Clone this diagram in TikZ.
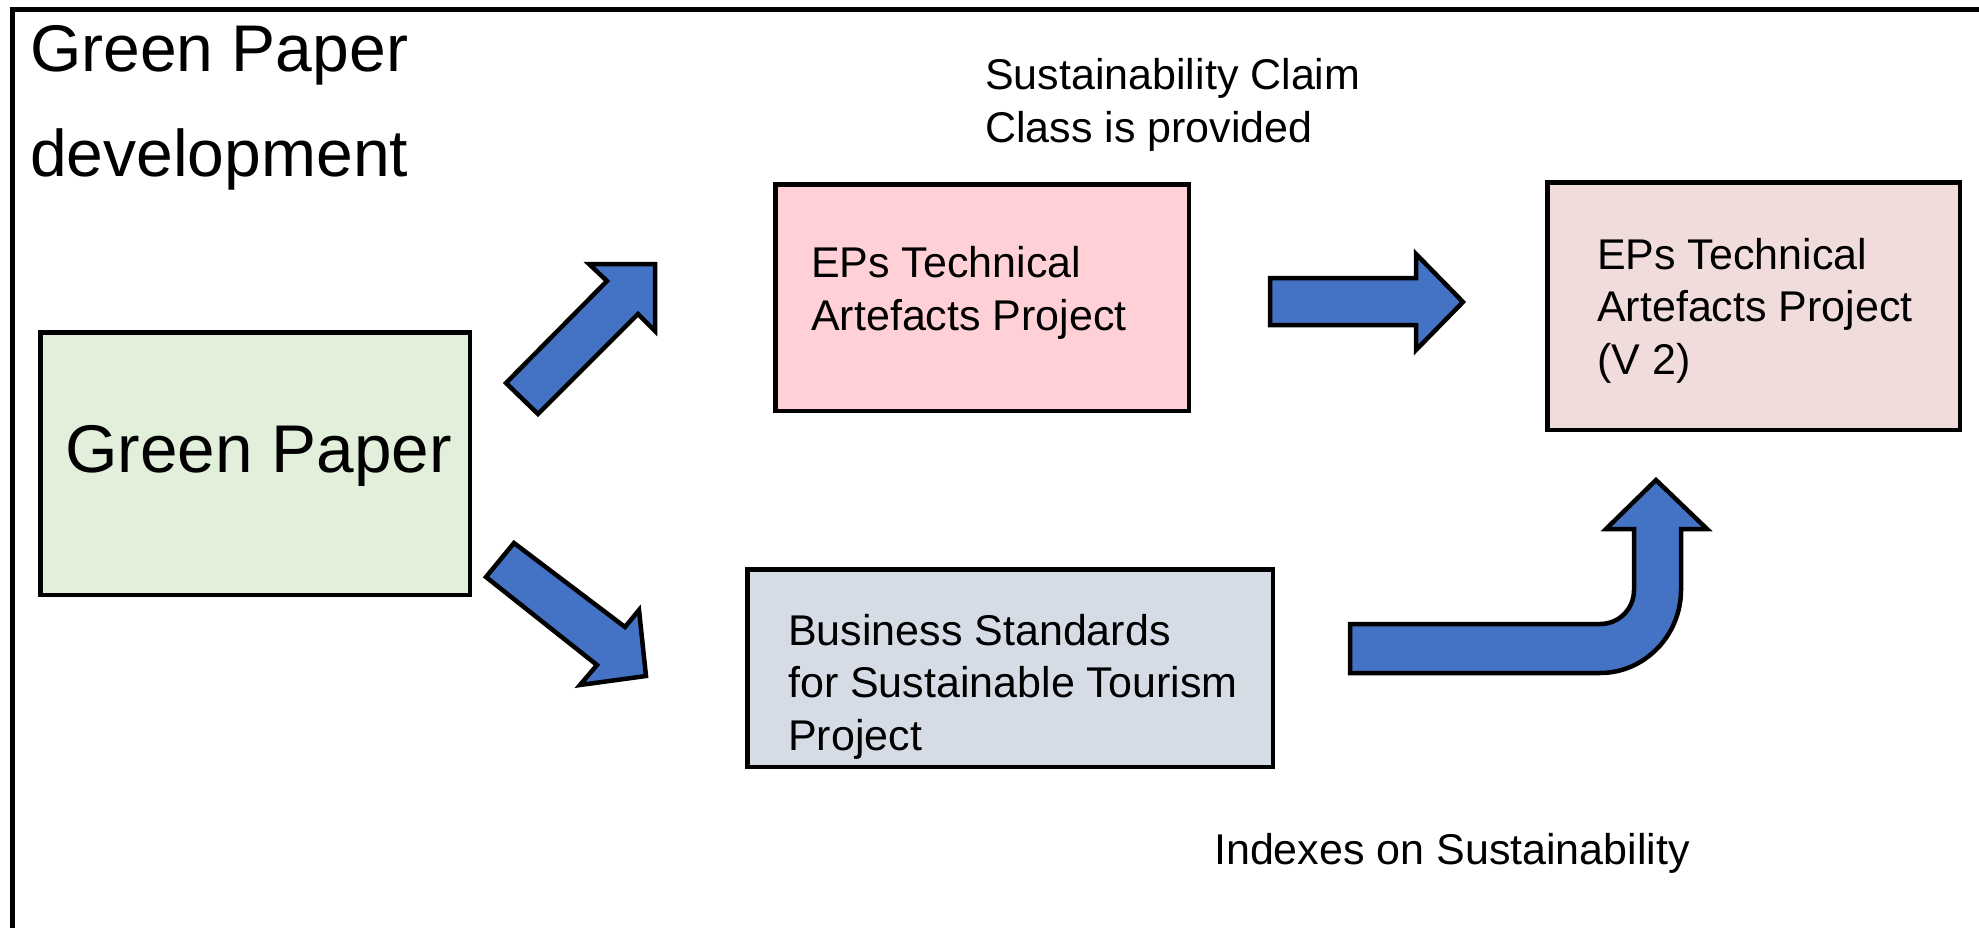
\documentclass[tikz,border=0pt]{standalone}
\usepackage{fontspec}
\setmainfont{Liberation Sans}
\definecolor{gpgreen}{HTML}{E2EFDA}
\definecolor{eppink}{HTML}{FFD1D6}
\definecolor{eprose}{HTML}{EFDCDB}
\definecolor{bsgrey}{HTML}{D6DCE5}
\definecolor{arrblue}{HTML}{4472C4}
\tikzset{
  box/.style={draw=black, line width=4.5pt, rectangle, inner sep=0pt},
  blockarrow/.style={draw=black, fill=arrblue, line width=4.5pt, line join=miter, miter limit=10},
  smalltext/.style={anchor=base west, inner sep=0pt, align=left, font=\fontsize{43}{52.5}\selectfont},
  bigtext/.style={anchor=base west, inner sep=0pt, align=left, font=\fontsize{66}{105}\selectfont},
  frame/.style={draw=black, line width=4.5pt}
}
\begin{document}
\begin{tikzpicture}[x=1pt, y=-1pt]
\useasboundingbox (0,0) rectangle (1979,927);
% outer frame (only top and left edges are visible)
\coordinate (fbl) at (12.5,940);
\coordinate (ftl) at (12.5,9.5);
\coordinate (ftr) at (1990,9.5);
\draw[frame, line join=miter] (fbl) -- (ftl) -- (ftr);
% multi-line texts are placed by the baseline of their last line
\node[bigtext] (title) at (30,176) {Green Paper\\development};
% boxes
\node[box, fill=gpgreen, minimum width=429.5pt, minimum height=262.5pt] (gp) at (255,463.5) {};
\node[box, fill=eppink, minimum width=413.5pt, minimum height=226.5pt] (ep1) at (982,297.5) {};
\node[box, fill=eprose, minimum width=412.5pt, minimum height=247.5pt] (ep2) at (1753.5,306) {};
\node[box, fill=bsgrey, minimum width=525.5pt, minimum height=197.5pt] (bs) at (1010,668) {};
% box texts
\node[anchor=base west, inner sep=0pt, font=\fontsize{67.5}{80}\selectfont] (gptext) at (65,472) {Green Paper};
\node[smalltext] (ep1text) at (811,330) {EPs Technical\\Artefacts Project};
\node[smalltext] (ep2text) at (1597,374) {EPs Technical\\Artefacts Project\\(V 2)};
\node[smalltext] (bstext) at (788,750) {Business Standards\\for Sustainable Tourism\\Project};
\node[smalltext] (claim) at (985,142) {Sustainability Claim\\Class is provided};
\node[smalltext] (idx) at (1214,864) {Indexes on Sustainability};
% arrow: green paper -> EPs (up-right)
\draw[blockarrow] (506,383) -- (607,281) -- (589,264) -- (655,264) -- (655,331) -- (638,314) -- (538,414) -- cycle;
% arrow: green paper -> business standards (down-right)
\draw[blockarrow] (486,577) -- (514,543) -- (625,627) -- (639,610) -- (646,676) -- (580,685) -- (597,665) -- cycle;
% arrow: EPs -> EPs V2 (right)
\draw[blockarrow] (1270,278) -- (1416,278) -- (1416,254) -- (1463,302) -- (1416,350) -- (1416,325) -- (1270,325) -- cycle;
% bent arrow: business standards -> EPs V2
\draw[blockarrow] (1350,624) -- (1600,624) .. controls (1619,624) and (1634,609) .. (1634,590) -- (1634,529) -- (1606,529) -- (1656,480) -- (1707,529) -- (1681,529) -- (1681,590) .. controls (1681,635) and (1645,673) .. (1600,673) -- (1350,673) -- cycle;
\end{tikzpicture}
\end{document}
